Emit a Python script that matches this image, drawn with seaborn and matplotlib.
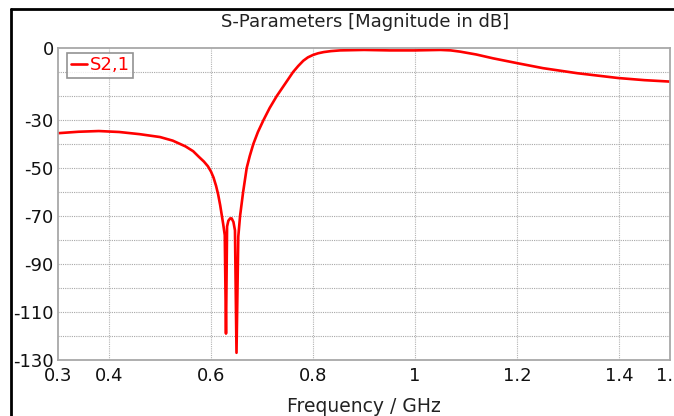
import matplotlib
matplotlib.use("Agg")
import matplotlib.pyplot as plt
from matplotlib.lines import Line2D
import seaborn as sns
import pandas as pd

# ---- data ----
freq_ghz = [0.30, 0.34, 0.38, 0.42, 0.46, 0.50, 0.525, 0.55, 0.565, 0.576, 0.586, 0.594,
            0.600, 0.605, 0.610, 0.614, 0.618, 0.621, 0.624, 0.627, 0.6294, 0.6315,
            0.634, 0.6375, 0.6405, 0.644, 0.647, 0.650, 0.6535, 0.657, 0.663, 0.670,
            0.676, 0.683, 0.692, 0.703, 0.715, 0.729, 0.745, 0.761, 0.771, 0.781,
            0.790, 0.800, 0.810, 0.821, 0.835, 0.853, 0.90, 0.95, 1.00, 1.05, 1.07,
            1.088, 1.12, 1.153, 1.20, 1.251, 1.318, 1.398, 1.45, 1.50]
s21_db = [-35.5, -34.9, -34.6, -35.0, -35.9, -37.1, -38.6, -41.0, -43.0, -45.3, -47.3, -49.3,
          -51.5, -54.0, -57.5, -61.0, -65.5, -69.5, -73.5, -78.0, -119.0, -74.4,
          -72.0, -71.0, -71.0, -72.5, -76.0, -127.0, -78.6, -70.0, -60.0, -50.0,
          -45.0, -40.0, -35.0, -30.0, -25.0, -20.0, -15.0, -10.0, -7.5, -5.3,
          -3.9, -2.9, -2.2, -1.7, -1.3, -1.0, -0.8, -1.0, -1.0, -0.8, -1.0,
          -1.5, -2.7, -4.3, -6.3, -8.4, -10.5, -12.5, -13.4, -14.0]
series_name = "S2,1"
x_ticks = [0.3, 0.4, 0.6, 0.8, 1.0, 1.2, 1.4, 1.5]
x_tick_labels = ["0.3", "0.4", "0.6", "0.8", "1", "1.2", "1.4", "1.5"]
y_ticks = [0, -30, -50, -70, -90, -110, -130]
y_grid = [-10, -20, -30, -40, -50, -60, -70, -80, -90, -100, -110, -120]
x_grid = [0.4, 0.6, 0.8, 1.0, 1.2, 1.4]

df = pd.DataFrame({"Frequency": freq_ghz, "S": s21_db, "series": series_name})

sns.set_style("white")
plt.rcParams["font.family"] = ["DejaVu Sans"]

fig = plt.figure(figsize=(6.74, 4.16), dpi=100)
ax = fig.add_axes([58 / 674, 1 - 360 / 416, (670 - 58) / 674, (360 - 48) / 416])

sns.lineplot(data=df, x="Frequency", y="S", hue="series", palette=["#ff0000"],
             sort=False, linewidth=1.9, ax=ax, legend=True)

ax.set_xlim(0.3, 1.5)
ax.set_ylim(-130, 0)

for gx in x_grid:
    ax.axvline(gx, color="#b4b4b4", linestyle=(0, (1, 1)), linewidth=0.8, zorder=0)
for gy in y_grid:
    ax.axhline(gy, color="#a8a8a8", linestyle=(0, (1, 1)), linewidth=0.8, zorder=0)

ax.set_xticks(x_ticks)
ax.set_xticklabels(x_tick_labels)
ax.set_yticks(y_ticks)
ax.set_yticklabels([str(v) for v in y_ticks])
ax.tick_params(axis="both", length=0, labelsize=13, colors="#111111")
ax.tick_params(axis="x", pad=5)
ax.tick_params(axis="y", pad=3)

for sp in ax.spines.values():
    sp.set_color("#a8a8a8")
    sp.set_linewidth(1.3)

ax.set_xlabel("Frequency / GHz", fontsize=13.5, color="#222222", labelpad=9)
ax.set_ylabel("")

leg = ax.legend(loc="upper left", bbox_to_anchor=(0.015, 0.985), fontsize=13,
                frameon=True, fancybox=False, handlelength=0.9, handletextpad=0.15,
                borderpad=0.2, borderaxespad=0.0)
leg.get_frame().set_edgecolor("#777777")
leg.get_frame().set_linewidth(1.2)
for t in leg.get_texts():
    t.set_color("#ff0000")

fig.text(365 / 674, 1 - 22 / 416, "S-Parameters [Magnitude in dB]", ha="center",
         va="center", fontsize=13, color="#222222")

# screenshot frame lines (top and left)
fig.add_artist(Line2D([11 / 674, 1.0], [1 - 9 / 416, 1 - 9 / 416], transform=fig.transFigure,
                      color="black", linewidth=2))
fig.add_artist(Line2D([11 / 674, 11 / 674], [0.0, 1 - 9 / 416], transform=fig.transFigure,
                      color="black", linewidth=2))

fig.savefig("out.png", dpi=100, facecolor="white")
